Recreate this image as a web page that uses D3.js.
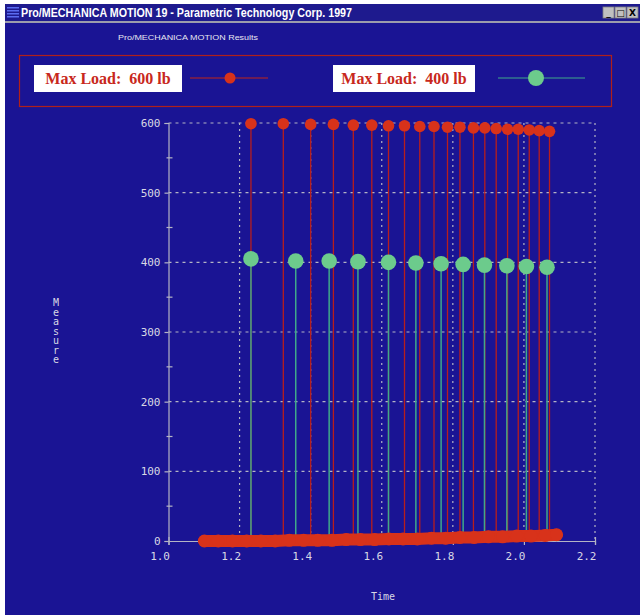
<!DOCTYPE html>
<html>
<head>
<meta charset="utf-8">
<script src="https://cdn.jsdelivr.net/npm/d3@7"></script>
<style>
  html, body { margin: 0; padding: 0; background: #ffffff; }
  svg { display: block; }
</style>
</head>
<body>
<svg width="640" height="615"></svg>
<script>
// series
const load600Time = [1.232, 1.323, 1.400, 1.464, 1.520, 1.572, 1.619, 1.664, 1.707, 1.747,
                     1.785, 1.820, 1.858, 1.890, 1.922, 1.954, 1.984, 2.015, 2.043, 2.072];
const load600Value = [599, 599, 598, 598, 597, 597, 596, 596, 595, 595,
                      594, 594, 593, 593, 592, 591, 591, 590, 589, 588];
const load400Time = [1.232, 1.358, 1.452, 1.533, 1.619, 1.696, 1.767, 1.829, 1.889, 1.952, 2.007, 2.065];
const load400Value = [405, 402, 402, 401, 400, 399, 398, 397, 396, 395, 394, 393];
// points lying along zero (red band at the bottom)
const baseTime = [1.101, 1.14, 1.18, 1.22, 1.26, 1.30, 1.34, 1.38, 1.42, 1.46, 1.50, 1.54, 1.58,
                  1.62, 1.66, 1.70, 1.74, 1.78, 1.82, 1.86, 1.90, 1.94, 1.98, 2.02, 2.06, 2.092];
const baseValue = [0, 0, 0, 0, 0, 0, 1, 1, 1, 1, 2, 2, 2, 3, 3, 3, 4, 4, 5, 5, 6, 6, 7, 7, 8, 9];
const xTicks = [1.0, 1.2, 1.4, 1.6, 1.8, 2.0, 2.2];
const yTicks = [0, 100, 200, 300, 400, 500, 600];
const legendLabels = ["Max Load:  600 lb", "Max Load:  400 lb"];

const svg = d3.select("svg");
const bg = "#1a1494";
const red = "#d8321a";
const green = "#6ccb8c";
const gridCol = "#b4b4c4";
const mono = "'DejaVu Sans Mono', monospace";

// window
svg.append("rect").attr("x", 5).attr("y", 4).attr("width", 635).attr("height", 611).attr("fill", bg);

// title bar
svg.append("rect").attr("x", 5).attr("y", 4).attr("width", 635).attr("height", 17).attr("fill", "#1e1a8e");
for (let i = 0; i < 4; i++) {
  svg.append("rect").attr("x", 7).attr("y", 7 + i * 3).attr("width", 12).attr("height", 1.5).attr("fill", "#5a6cf0");
}
svg.append("text").attr("x", 21).attr("y", 17)
  .attr("fill", "#ffffff").attr("font-family", "'Liberation Sans', Arial, sans-serif")
  .attr("font-weight", "bold").attr("font-size", 12)
  .attr("textLength", 331).attr("lengthAdjust", "spacingAndGlyphs")
  .text("Pro/MECHANICA MOTION 19 - Parametric Technology Corp. 1997");
svg.append("rect").attr("x", 5).attr("y", 21).attr("width", 635).attr("height", 2).attr("fill", "#9c9cac");
["_", "□", "X"].forEach((s, i) => {
  const bx = 603 + i * 12;
  svg.append("rect").attr("x", bx).attr("y", 7).attr("width", 11).attr("height", 11)
    .attr("fill", "#c0c0c0").attr("stroke", "#808080").attr("stroke-width", 0.8);
  svg.append("text").attr("x", bx + 5.5).attr("y", 16).attr("text-anchor", "middle")
    .attr("font-family", "'DejaVu Sans', sans-serif").attr("font-weight", "bold").attr("font-size", 9)
    .attr("fill", "#000").text(s);
});

// subtitle
svg.append("text").attr("x", 118).attr("y", 40).attr("fill", "#e6e6f0")
  .attr("font-family", "'Liberation Sans', Arial, sans-serif").attr("font-size", 8)
  .attr("textLength", 140).attr("lengthAdjust", "spacingAndGlyphs")
  .text("Pro/MECHANICA MOTION Results");

// legend
svg.append("rect").attr("x", 19.5).attr("y", 55.5).attr("width", 592).attr("height", 51)
  .attr("fill", "none").attr("stroke", "#b0201a").attr("stroke-width", 1.2);
const legendItems = [
  { label: legendLabels[0], bx: 34, bw: 148, lx0: 190, lx1: 268, dx: 230, r: 5.5, col: red, lineCol: "#c02418" },
  { label: legendLabels[1], bx: 333, bw: 142, lx0: 498, lx1: 585, dx: 536, r: 8, col: green, lineCol: "#3fa88a" }
];
legendItems.forEach(d => {
  svg.append("rect").attr("x", d.bx).attr("y", 65).attr("width", d.bw).attr("height", 27).attr("fill", "#ffffff");
  svg.append("text").attr("x", d.bx + d.bw / 2).attr("y", 84).attr("text-anchor", "middle")
    .attr("fill", "#c8281c").attr("font-family", "'Liberation Serif', 'Times New Roman', serif")
    .attr("font-weight", "bold").attr("font-size", 16).style("white-space", "pre")
    .text(d.label);
  svg.append("line").attr("x1", d.lx0).attr("x2", d.lx1).attr("y1", 78).attr("y2", 78)
    .attr("stroke", d.lineCol).attr("stroke-width", 1.2);
  svg.append("circle").attr("cx", d.dx).attr("cy", 78).attr("r", d.r).attr("fill", d.col);
});

// scales
const x = d3.scaleLinear().domain([1.0, 2.2]).range([168.5, 595]);
const y = d3.scaleLinear().domain([0, 600]).range([541, 123]);

// grid
const grid = svg.append("g");
grid.selectAll(".vg").data(xTicks.slice(1)).join("line")
  .attr("x1", d => x(d)).attr("x2", d => x(d)).attr("y1", y(600)).attr("y2", y(0))
  .attr("stroke", gridCol).attr("stroke-width", 1.2).attr("stroke-dasharray", "2,4");
grid.selectAll(".hg").data(yTicks.slice(1)).join("line")
  .attr("x1", x(1.0)).attr("x2", x(2.2)).attr("y1", d => y(d)).attr("y2", d => y(d))
  .attr("stroke", gridCol).attr("stroke-width", 1.2).attr("stroke-dasharray", "3,4");

// y axis
const yAxis = svg.append("g").attr("transform", `translate(${x(1.0)},0)`)
  .call(d3.axisLeft(y).tickValues(yTicks).tickSize(4).tickPadding(4).tickFormat(d3.format("d")));
yAxis.select(".domain").attr("stroke", gridCol).attr("stroke-width", 1.2);
yAxis.selectAll(".tick line").attr("stroke", gridCol).attr("stroke-width", 1.2);
yAxis.selectAll("text").attr("fill", "#d8d8e4").attr("font-family", mono).attr("font-size", 11);
// minor ticks
svg.append("g").selectAll("line").data(d3.range(50, 600, 100)).join("line")
  .attr("x1", x(1.0) - 2).attr("x2", x(1.0) + 4).attr("y1", d => y(d)).attr("y2", d => y(d))
  .attr("stroke", gridCol).attr("stroke-width", 1.2);

// x axis
const xAxis = svg.append("g").attr("transform", `translate(0,${y(0)})`)
  .call(d3.axisBottom(x).tickValues(xTicks).tickSize(4).tickPadding(5).tickFormat(d3.format(".1f")));
xAxis.select(".domain").attr("stroke", gridCol).attr("stroke-width", 1.2);
xAxis.selectAll(".tick line").attr("stroke", gridCol).attr("stroke-width", 1.2).attr("y1", -4);
xAxis.selectAll("text").attr("fill", "#d8d8e4").attr("font-family", mono).attr("font-size", 11)
  .attr("text-anchor", "end").attr("dx", 1).attr("dy", "0.9em");

// axis titles
svg.append("text").attr("x", 383).attr("y", 600).attr("text-anchor", "middle")
  .attr("fill", "#d8d8e4").attr("font-family", mono).attr("font-size", 10).text("Time");
svg.append("g").selectAll("text").data("Measure".split("")).join("text")
  .attr("x", 56).attr("y", (d, i) => 306 + i * 9.5).attr("text-anchor", "middle")
  .attr("fill", "#d8d8e4").attr("font-family", mono).attr("font-size", 10).text(d => d);

// stems
const s600 = load600Time.map((t, i) => ({ t, v: load600Value[i] }));
const s400 = load400Time.map((t, i) => ({ t, v: load400Value[i] }));
svg.append("g").selectAll("line").data(s600).join("line")
  .attr("x1", d => x(d.t)).attr("x2", d => x(d.t)).attr("y1", d => y(d.v)).attr("y2", y(0))
  .attr("stroke", "#b81e1c").attr("stroke-width", 1.3);
svg.append("g").selectAll("line").data(s400).join("line")
  .attr("x1", d => x(d.t)).attr("x2", d => x(d.t)).attr("y1", d => y(d.v)).attr("y2", y(0))
  .attr("stroke", "#3fa88a").attr("stroke-width", 1.5);

// dots
svg.append("g").selectAll("circle").data(s600).join("circle")
  .attr("cx", d => x(d.t)).attr("cy", d => y(d.v)).attr("r", 5.8).attr("fill", red);
svg.append("g").selectAll("circle").data(s400).join("circle")
  .attr("cx", d => x(d.t)).attr("cy", d => y(d.v)).attr("r", 7.8).attr("fill", green);

// zero band
const base = baseTime.map((t, i) => ({ t, v: baseValue[i] }));
svg.append("path").datum(base)
  .attr("d", d3.line().x(d => x(d.t)).y(d => y(d.v)))
  .attr("fill", "none").attr("stroke", red).attr("stroke-width", 12)
  .attr("stroke-linecap", "round").attr("stroke-linejoin", "round");
svg.append("g").selectAll("circle").data(base).join("circle")
  .attr("cx", d => x(d.t)).attr("cy", d => y(d.v)).attr("r", 6.5).attr("fill", red);
</script>
</body>
</html>
